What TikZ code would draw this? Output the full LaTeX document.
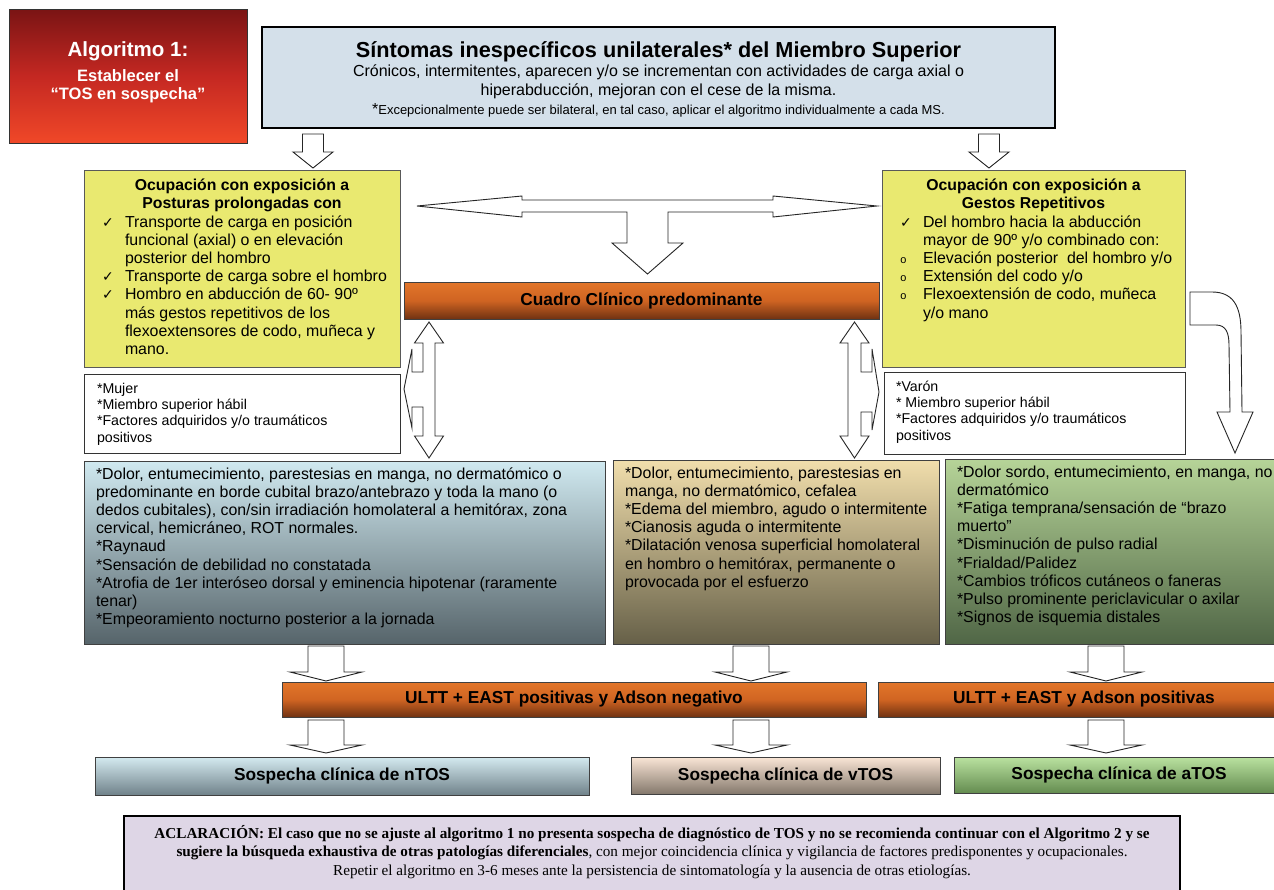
\documentclass[tikz,border=0pt]{standalone}
\usepackage{fontspec}
\setmainfont{Liberation Sans}
\newfontfamily\notefont{Liberation Serif}
\newfontfamily\symbolfont{DejaVu Sans}
\newfontfamily\bulletfont{Liberation Mono}
\usetikzlibrary{calc}

\newcommand\setfs[2]{\fontsize{#1}{#2}\selectfont}
\newcommand\firstline[1]{\rule{0pt}{#1pt}}
\newcommand\chk{\makebox[23pt][l]{\symbolfont\setfs{14}{14}✓}}
\newcommand\bul{\makebox[23pt][l]{\bulletfont\setfs{11}{11}o}}
\newcommand\ind{\hspace*{23pt}}

\definecolor{redtop}{RGB}{122,20,20}
\definecolor{redmid}{RGB}{196,40,34}
\definecolor{redbot}{RGB}{240,72,40}
\definecolor{topblue}{RGB}{212,224,234}
\definecolor{ocre}{RGB}{233,233,112}
\definecolor{orangetop}{RGB}{226,118,42}
\definecolor{orangemid}{RGB}{208,100,34}
\definecolor{orangebot}{RGB}{112,50,18}
\definecolor{ntop}{RGB}{208,233,240}
\definecolor{nbot}{RGB}{86,100,106}
\definecolor{vtop}{RGB}{241,222,172}
\definecolor{vbot}{RGB}{102,96,72}
\definecolor{atop}{RGB}{182,212,152}
\definecolor{abot}{RGB}{80,102,70}
\definecolor{rntop}{RGB}{212,234,240}
\definecolor{rnbot}{RGB}{112,130,138}
\definecolor{rvtop}{RGB}{250,230,214}
\definecolor{rvbot}{RGB}{132,120,108}
\definecolor{ratop}{RGB}{186,226,160}
\definecolor{rabot}{RGB}{100,140,80}
\definecolor{notefill}{RGB}{222,214,230}

\begin{document}
\begin{tikzpicture}[x=1pt, y=-1pt,
  every node/.style={inner sep=0pt, outer sep=0pt},
  box/.style={rectangle, anchor=north west},
  redpanel/.style={box, draw=black!80, line width=1pt, top color=redtop, bottom color=redbot, middle color=redmid},
  toppanel/.style={box, fill=topblue, draw=black, line width=2pt},
  yellowpanel/.style={box, fill=ocre, draw=black!65, line width=1pt},
  whitepanel/.style={box, fill=white, draw=black!80, line width=1pt},
  gradpanel/.style 2 args={box, draw=black!75, line width=1pt, top color=#1, bottom color=#2},
  orangepanel/.style={box, draw=black!75, line width=1pt, top color=orangetop, bottom color=orangebot, middle color=orangemid, font=\bfseries\setfs{17.3}{20}},
  resultpanel/.style 2 args={gradpanel={#1}{#2}, font=\bfseries\setfs{17.3}{20}},
  notepanel/.style={box, fill=notefill, draw=black, line width=2pt},
  bodytext/.style={anchor=north west, align=left, font=\setfs{15.9}{18.2}},
  headtext/.style={anchor=north, align=center, font=\bfseries\setfs{15.8}{18.2}},
  smalltext/.style={anchor=north west, align=left, font=\setfs{14.2}{16.4}},
  blockarrow/.style={draw=black!85, line width=0.9pt, fill=white, line join=miter},
  pics/downarr/.style n args={4}{code={
    \draw[blockarrow] (-#1,0) -- (#1,0) -- (#1,#3) -- (#2,#3) -- (0,#4) -- (-#2,#3) -- (-#1,#3) -- cycle;}}
]
\useasboundingbox (0,0) rectangle (1274,889);
\fill[white] (0,0) rectangle (1274,889);

% ---------- panels ----------
\node[redpanel, minimum width=238, minimum height=134] (alg) at (9,9) {};
\node[toppanel, minimum width=793, minimum height=101] (sint) at (262,27) {};
\node[yellowpanel, minimum width=316, minimum height=197] (ocpost) at (84,170) {};
\node[yellowpanel, minimum width=303, minimum height=197] (ocgest) at (882,170) {};
\node[orangepanel, minimum width=475, minimum height=37] (cuadro) at (404,282) {Cuadro Clínico predominante};
\node[whitepanel, minimum width=316, minimum height=79] (factL) at (84,374) {};
\node[whitepanel, minimum width=301, minimum height=82] (factR) at (884,372) {};
\node[gradpanel={ntop}{nbot}, minimum width=521, minimum height=183] (nsym) at (84,461) {};
\node[gradpanel={vtop}{vbot}, minimum width=326, minimum height=184] (vsym) at (613,460) {};
\node[gradpanel={atop}{abot}, minimum width=345, minimum height=185] (asym) at (945,459) {};
\node[orangepanel, minimum width=584, minimum height=35] (ultA) at (282,682) {ULTT + EAST positivas y Adson negativo};
\node[orangepanel, minimum width=412, minimum height=35] (ultB) at (878,682) {ULTT + EAST y Adson positivas};
\node[resultpanel={rntop}{rnbot}, minimum width=494, minimum height=38] (rN) at (95,757) {Sospecha clínica de nTOS};
\node[resultpanel={rvtop}{rvbot}, minimum width=309, minimum height=37] (rV) at (631,757) {Sospecha clínica de vTOS};
\node[resultpanel={ratop}{rabot}, minimum width=330, minimum height=36] (rA) at (954,757) {Sospecha clínica de aTOS};
\node[notepanel, minimum width=1056, minimum height=90] (nota) at (124,816) {};

% ---------- texts ----------
\node[anchor=north, align=center, text=white, font=\bfseries\setfs{16.5}{18.5}] (algtxt) at (128,35)
  {\firstline{21}{\setfs{20.5}{20}Algoritmo 1:}\\[6.5pt]Establecer el\\“TOS en sospecha”};

\node[anchor=north, align=center, font=\setfs{16}{19}] (sinttxt) at (658.5,36.5)
  {\firstline{21}{\bfseries\setfs{21.7}{22}Síntomas inespecíficos unilaterales* del Miembro Superior}\\
   Crónicos, intermitentes, aparecen y/o se incrementan con actividades de carga axial o\\
   hiperabducción, mejoran con el cese de la misma.\\[-0.5pt]
   {\setfs{13}{14}{\setfs{16}{14}*}Excepcionalmente puede ser bilateral, en tal caso, aplicar el algoritmo individualmente a cada MS.}};

\node[headtext] (posthead) at (242,175) {\firstline{15}Ocupación con exposición a\\Posturas prolongadas con};
\node[bodytext] (posttxt) at (102,214)
  {\firstline{13}\chk Transporte de carga en posición\\
   \ind funcional (axial) o en elevación\\
   \ind posterior del hombro\\
   \chk Transporte de carga sobre el hombro\\
   \chk Hombro en abducción de 60- 90º\\
   \ind más gestos repetitivos de los\\
   \ind flexoextensores de codo, muñeca y\\
   \ind mano.};

\node[headtext] (gesthead) at (1033.5,175) {\firstline{15}Ocupación con exposición a\\Gestos Repetitivos};
\node[bodytext] (gesttxt) at (900,214)
  {\firstline{13}\chk Del hombro hacia la abducción\\
   \ind mayor de 90º y/o combinado con:\\
   \bul Elevación posterior~ del hombro y/o\\
   \bul Extensión del codo y/o\\
   \bul Flexoextensión de codo, muñeca\\
   \ind y/o mano};

\node[smalltext] (factLtxt) at (97,381)
  {\firstline{12}*Mujer\\*Miembro superior hábil\\*Factores adquiridos y/o traumáticos\\positivos};
\node[smalltext] (factRtxt) at (896,379)
  {\firstline{12}*Varón\\* Miembro superior hábil\\*Factores adquiridos y/o traumáticos\\positivos};

\node[bodytext] (nsymtxt) at (96,466)
  {\firstline{13}*Dolor, entumecimiento, parestesias en manga, no dermatómico o\\
   predominante en borde cubital brazo/antebrazo y toda la mano (o\\
   dedos cubitales), con/sin irradiación homolateral a hemitórax, zona\\
   cervical, hemicráneo, ROT normales.\\
   *Raynaud\\
   *Sensación de debilidad no constatada\\
   *Atrofia de 1er interóseo dorsal y eminencia hipotenar (raramente\\
   tenar)\\
   *Empeoramiento nocturno posterior a la jornada};

\node[bodytext] (vsymtxt) at (625,465)
  {\firstline{13}*Dolor, entumecimiento, parestesias en\\
   manga, no dermatómico, cefalea\\
   *Edema del miembro, agudo o intermitente\\
   *Cianosis aguda o intermitente\\
   *Dilatación venosa superficial homolateral\\
   en hombro o hemitórax, permanente o\\
   provocada por el esfuerzo};

\node[bodytext] (asymtxt) at (957,464)
  {\firstline{13}*Dolor sordo, entumecimiento, en manga, no\\
   dermatómico\\
   *Fatiga temprana/sensación de “brazo\\
   muerto”\\
   *Disminución de pulso radial\\
   *Frialdad/Palidez\\
   *Cambios tróficos cutáneos o faneras\\
   *Pulso prominente periclavicular o axilar\\
   *Signos de isquemia distales};

\node[anchor=north, align=center, font=\notefont\setfs{15.2}{18.8}] (notatxt) at (652,825)
  {\firstline{12}\textbf{ACLARACIÓN: El caso que no se ajuste al algoritmo 1 no presenta sospecha de diagnóstico de TOS y no se recomienda continuar con el Algoritmo 2 y se}\\
   \textbf{sugiere la búsqueda exhaustiva de otras patologías diferenciales}, con mejor coincidencia clínica y vigilancia de factores predisponentes y ocupacionales.\\
   Repetir el algoritmo en 3-6 meses ante la persistencia de sintomatología y la ausencia de otras etiologías.};

% ---------- block arrows ----------
\coordinate (colA) at (313,0);
\coordinate (colB) at (989,0);
\coordinate (colL) at (326,0);
\coordinate (colM) at (751,0);
\coordinate (colR) at (1106,0);

\pic at ($(sint.south -| colA)+(0,6)$) {downarr={10.5}{20}{18}{34}};
\pic at ($(sint.south -| colB)+(0,6)$) {downarr={10.5}{20}{18}{34}};

\pic at ($(nsym.south -| colL)+(0,2)$) {downarr={18}{36}{26}{35}};
\pic at ($(nsym.south -| colM)+(0,2)$) {downarr={18}{36}{26}{35}};
\pic at ($(nsym.south -| colR)+(0,2)$) {downarr={18}{36}{26}{35}};

\pic at ($(ultA.south -| colL)+(0,3)$) {downarr={18}{36}{25}{33}};
\pic at ($(ultA.south -| colM)+(0,3)$) {downarr={18}{36}{25}{33}};
\pic at ($(ultA.south -| colR)+(0,3)$) {downarr={18}{36}{25}{33}};

% T-shaped arrow: both occupations feed the clinical picture
\draw[blockarrow] (417,206) -- (522,196) -- (522,200) -- (773,200) -- (773,196) -- (877,206)
  -- (773,217) -- (773,212) -- (668,212) -- (668,243) -- (683,243) -- (647.5,274)
  -- (612,243) -- (627,243) -- (627,212) -- (522,212) -- (522,217) -- cycle;

% double arrows with a callout wedge towards the risk factors
\draw[blockarrow] (429,322) -- (443.5,343) -- (435,343) -- (435,436) -- (443.5,436) -- (429,458)
  -- (414.5,436) -- (423,436) -- (423,407) -- (412,407) -- (412,428) -- (404,389) -- (412,349)
  -- (412,372) -- (423,372) -- (423,343) -- (414.5,343) -- cycle;
\draw[blockarrow] (854.5,322) -- (840,343) -- (848,343) -- (848,436) -- (840,436) -- (854.5,458)
  -- (869,436) -- (861,436) -- (861,412) -- (872,412) -- (872,430) -- (879,392) -- (872,349)
  -- (872,372) -- (861,372) -- (861,343) -- (869,343) -- cycle;

% curved arrow from repetitive gestures down to aTOS
\draw[blockarrow] (1190,292) -- (1212,292) .. controls (1233,292) and (1241,306) .. (1241,332)
  -- (1242,412) -- (1253,412) -- (1235,453) -- (1217,412) -- (1230,412) -- (1229,345)
  .. controls (1229,333) and (1226,325) .. (1216,325) -- (1190,325) -- cycle;
\end{tikzpicture}
\end{document}
